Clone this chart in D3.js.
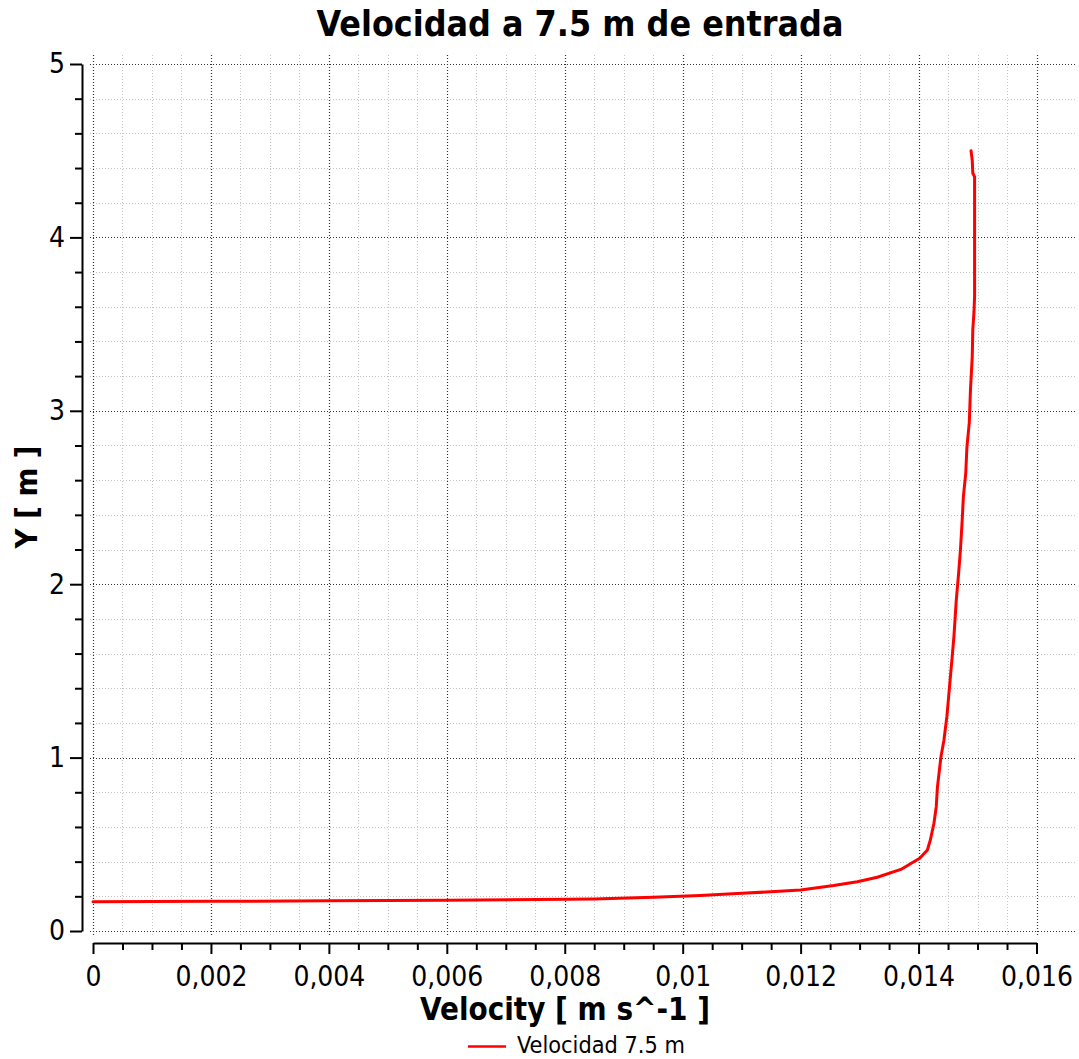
<!DOCTYPE html>
<html><head><meta charset="utf-8">
<script src="https://cdn.jsdelivr.net/npm/d3@7"></script>
<style>
html,body{margin:0;padding:0;background:#fff;}
svg text{font-family:"DejaVu Sans Condensed","DejaVu Sans",sans-serif;fill:#000;}
</style></head>
<body>
<svg id="chart" width="1079" height="1059"></svg>
<script>
// ---- data ----
const velocity = [0, 0.002, 0.004, 0.006, 0.0085, 0.0095, 0.0103, 0.011, 0.012, 0.01256, 0.01296, 0.0133, 0.0137, 0.01402, 0.01415, 0.0142, 0.01426, 0.0143, 0.01432, 0.01436, 0.01438, 0.01443, 0.01448, 0.01451, 0.01454, 0.01457, 0.0146, 0.01464, 0.01468, 0.01471, 0.01474, 0.01476, 0.0148, 0.01482, 0.01486, 0.01488, 0.01491, 0.01492, 0.01494, 0.01495, 0.01495, 0.01492, 0.01491, 0.01489];
const yPos = [0.169, 0.171, 0.174, 0.177, 0.185, 0.195, 0.205, 0.217, 0.236, 0.262, 0.284, 0.31, 0.355, 0.42, 0.467, 0.525, 0.62, 0.717, 0.83, 0.947, 1.005, 1.10, 1.236, 1.35, 1.467, 1.58, 1.70, 1.91, 2.065, 2.197, 2.37, 2.505, 2.64, 2.79, 2.93, 3.12, 3.31, 3.47, 3.57, 3.66, 4.35, 4.37, 4.446, 4.50];
const xMajorTicks = [0, 0.002, 0.004, 0.006, 0.008, 0.01, 0.012, 0.014, 0.016];
const xTickLabels = ["0", "0,002", "0,004", "0,006", "0,008", "0,01", "0,012", "0,014", "0,016"];
const xMinorTicks = d3.range(0, 33).map(i => i * 0.0005);
const yMajorTicks = [0, 1, 2, 3, 4, 5];
const yTickLabels = ["0", "1", "2", "3", "4", "5"];
const yMinorTicks = d3.range(0, 26).map(i => i * 0.2);
const titleText = "Velocidad a 7.5 m de entrada";
const xTitle = "Velocity [ m s^-1 ]";
const yTitle = "Y [ m ]";
const seriesName = "Velocidad 7.5 m";

// ---- layout ----
const svg = d3.select("#chart");
const x = d3.scaleLinear().domain([0, 0.016]).range([93, 1036.5]);
const y = d3.scaleLinear().domain([0, 5]).range([931, 64]);
const gridLeft = 90, gridRight = 1075, gridTop = 55, gridBottom = 937;

function fit(sel, target, size) {
  sel.attr("font-size", size);
  const w = sel.node().getComputedTextLength();
  sel.attr("font-size", size * target / w);
}

// grid
const grid = svg.append("g");
const minorX = xMinorTicks.filter((d, i) => i % 4 !== 0);
const minorY = yMinorTicks.filter((d, i) => i % 5 !== 0);
grid.selectAll(".vmin").data(minorX).join("line")
  .attr("x1", d => Math.round(x(d)) + 0.5).attr("x2", d => Math.round(x(d)) + 0.5)
  .attr("y1", gridTop).attr("y2", gridBottom)
  .attr("stroke", "#c4c4c4").attr("stroke-width", 1).attr("stroke-dasharray", "1,2");
grid.selectAll(".hmin").data(minorY).join("line")
  .attr("y1", d => Math.round(y(d)) + 0.5).attr("y2", d => Math.round(y(d)) + 0.5)
  .attr("x1", gridLeft).attr("x2", gridRight)
  .attr("stroke", "#c4c4c4").attr("stroke-width", 1).attr("stroke-dasharray", "1,2");
grid.selectAll(".vmaj").data(xMajorTicks).join("line")
  .attr("x1", d => Math.round(x(d)) + 0.5).attr("x2", d => Math.round(x(d)) + 0.5)
  .attr("y1", gridTop).attr("y2", gridBottom)
  .attr("stroke", "#333").attr("stroke-width", 1.2).attr("stroke-dasharray", "1,2");
grid.selectAll(".hmaj").data(yMajorTicks).join("line")
  .attr("y1", d => Math.round(y(d)) + 0.5).attr("y2", d => Math.round(y(d)) + 0.5)
  .attr("x1", gridLeft).attr("x2", gridRight)
  .attr("stroke", "#333").attr("stroke-width", 1.2).attr("stroke-dasharray", "1,2");

// axes
const xAxisY = 943, yAxisX = 82;
const gxMin = svg.append("g").attr("transform", `translate(0,${xAxisY})`)
  .call(d3.axisBottom(x).tickValues(minorX).tickSize(7).tickSizeOuter(0).tickFormat(""));
const gx = svg.append("g").attr("transform", `translate(0,${xAxisY})`)
  .call(d3.axisBottom(x).tickValues(xMajorTicks).tickSize(11).tickSizeOuter(0)
    .tickFormat((d, i) => xTickLabels[i]).tickPadding(12));
const gyMin = svg.append("g").attr("transform", `translate(${yAxisX},0)`)
  .call(d3.axisLeft(y).tickValues(minorY).tickSize(7).tickSizeOuter(0).tickFormat(""));
const gy = svg.append("g").attr("transform", `translate(${yAxisX},0)`)
  .call(d3.axisLeft(y).tickValues(yMajorTicks).tickSize(12).tickSizeOuter(0)
    .tickFormat((d, i) => yTickLabels[i]).tickPadding(5));
[gxMin, gx, gyMin, gy].forEach(g => {
  g.selectAll("path,line").attr("stroke", "#000").attr("stroke-width", 2);
});
gxMin.select(".domain").remove();
gyMin.select(".domain").remove();
gx.selectAll("text").attr("font-family", null).attr("font-size", 28).attr("fill", "#000");
gy.selectAll("text").attr("font-family", null).attr("font-size", 28).attr("fill", "#000");
{
  const t = gx.selectAll("text").filter((d, i) => i === 1);
  const w = t.node().getComputedTextLength();
  const fs = 28 * 72 / w;
  gx.selectAll("text").attr("font-size", fs);
  gy.selectAll("text").attr("font-size", fs);
}

// line
const line = d3.line().x((d, i) => x(velocity[i])).y((d, i) => y(yPos[i]));
svg.append("path").datum(velocity).attr("d", line)
  .attr("fill", "none").attr("stroke", "#ff0000").attr("stroke-width", 3)
  .attr("stroke-linejoin", "round").attr("stroke-linecap", "round");

// titles
const tt = svg.append("text").attr("x", 580).attr("y", 36).attr("text-anchor", "middle")
  .attr("font-weight", "bold").text(titleText);
fit(tt, 527, 30);
const xt = svg.append("text").attr("x", 565).attr("y", 1020).attr("text-anchor", "middle")
  .attr("font-weight", "bold").text(xTitle);
fit(xt, 290, 26);
const yt = svg.append("text").attr("transform", "translate(37,497) rotate(-90)").attr("text-anchor", "middle")
  .attr("font-weight", "bold").text(yTitle);
fit(yt, 103, 26);

// legend
svg.append("line").attr("x1", 468).attr("x2", 506).attr("y1", 1046.5).attr("y2", 1046.5)
  .attr("stroke", "#ff0000").attr("stroke-width", 2.5);
const lt = svg.append("text").attr("x", 517).attr("y", 1053).text(seriesName);
fit(lt, 168, 17);
</script>
</body></html>
